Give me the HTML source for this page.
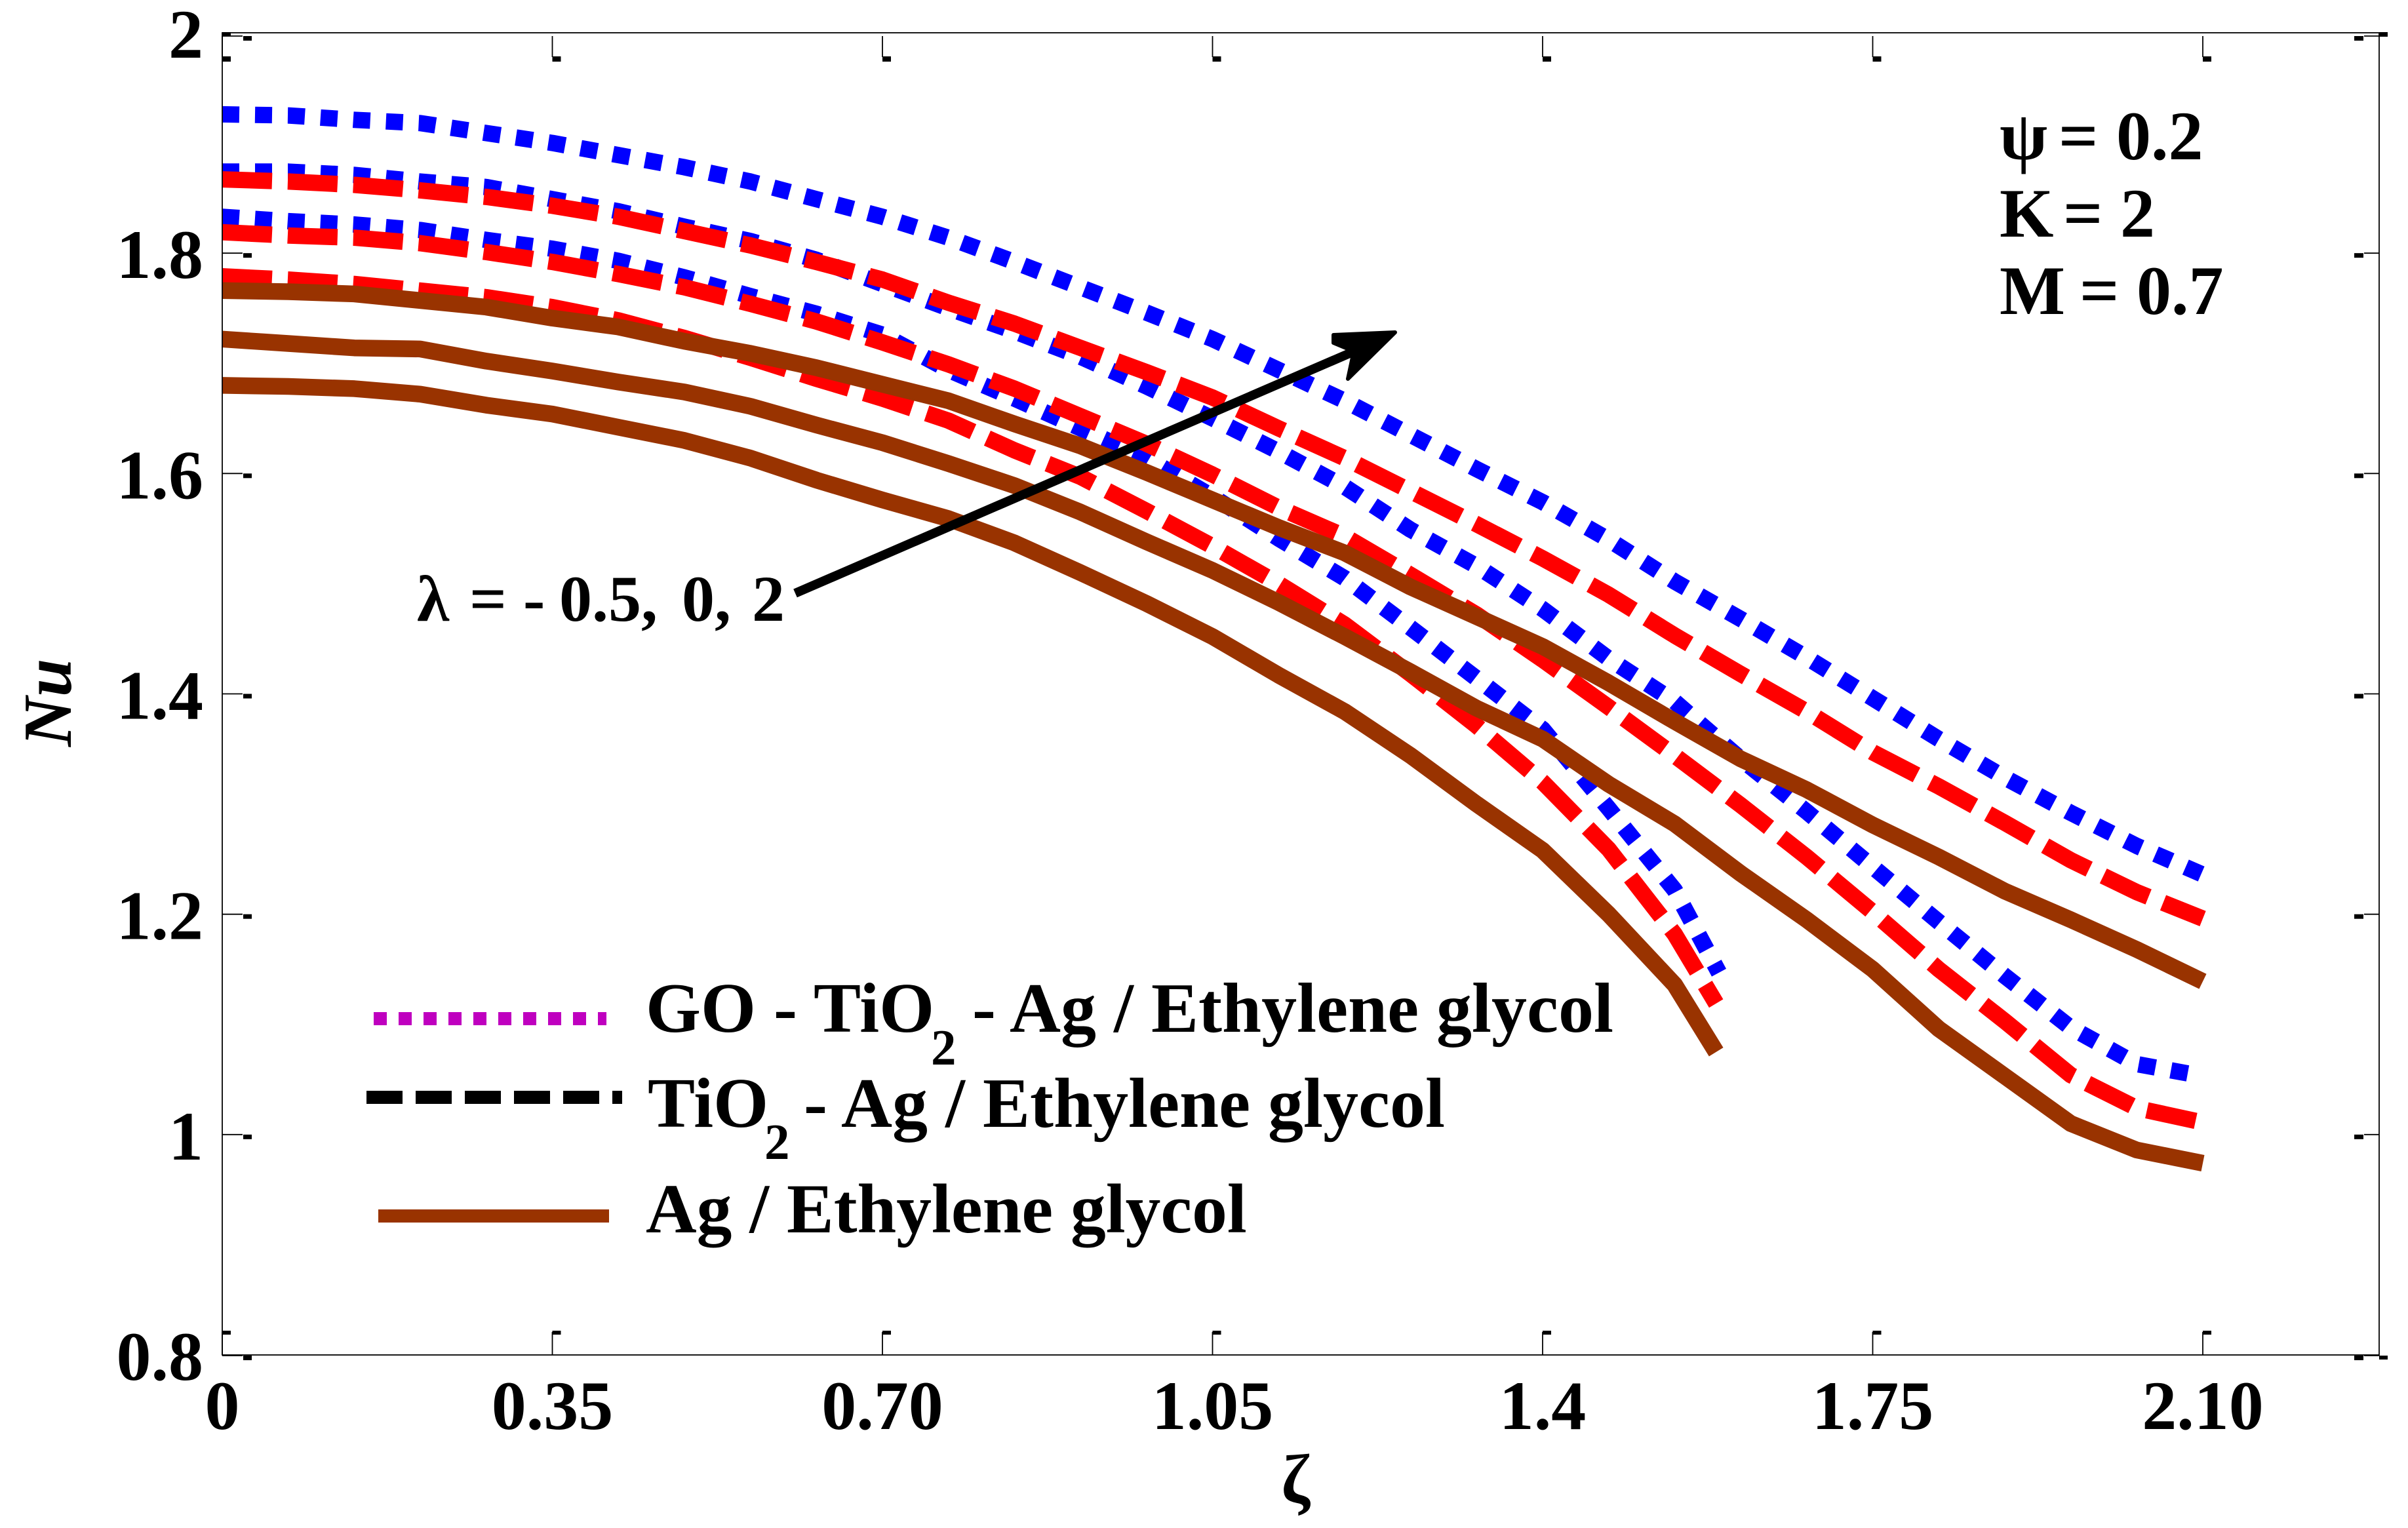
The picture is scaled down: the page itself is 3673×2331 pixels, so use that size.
<!DOCTYPE html>
<html lang="en">
<head>
<meta charset="utf-8">
<title>Nu versus zeta chart</title>
<style>
html,body{margin:0;padding:0;background:#fff;}
svg{display:block;}
text{font-family:"Liberation Serif","DejaVu Serif",serif;font-weight:bold;fill:#000;}
</style>
</head>
<body>
<svg id="chart" xmlns="http://www.w3.org/2000/svg" width="3673" height="2331" viewBox="0 0 3673 2331">
  <rect x="0" y="0" width="3673" height="2331" fill="#fff"/>
  <g id="curves"></g>
  <rect x="339" y="50" width="3290" height="2017" fill="none" stroke="#000" stroke-width="1.8"/>
  <g id="ticks"></g>
  <g id="tick-labels" font-size="106"></g>

  <text x="1976" y="2292" font-size="106" text-anchor="middle">ζ</text>
  <text transform="translate(108,1139) rotate(-90)" font-size="105" font-style="italic">Nu</text>

  <g>
    <line x1="1213" y1="905" x2="2070" y2="534" stroke="#000" stroke-width="14"/>
    <polygon points="2128,507 2034,511 2034,523 2065,536 2056,578" fill="#000" stroke="#000" stroke-width="6" stroke-linejoin="round"/>
  </g>
  <text y="947" font-size="100"><tspan x="636">λ</tspan><tspan x="716">=</tspan><tspan x="798">-</tspan><tspan x="853">0.5,</tspan><tspan x="1040">0,</tspan><tspan x="1147">2</tspan></text>

  <g font-size="106">
    <text y="243"><tspan x="3050">ψ</tspan><tspan x="3140">=</tspan><tspan x="3228">0.2</tspan></text>
    <text y="361"><tspan x="3050">K</tspan><tspan x="3147">=</tspan><tspan x="3234">2</tspan></text>
    <text y="479"><tspan x="3050">M</tspan><tspan x="3172">=</tspan><tspan x="3259">0.7</tspan></text>
  </g>

  <g>
    <line x1="570" y1="1554" x2="925" y2="1554" stroke="#BF00BF" stroke-width="20" stroke-dasharray="20 18"/>
    <text y="1574" font-size="108"><tspan x="985">GO - TiO</tspan><tspan x="1420" y="1624" font-size="77">2</tspan><tspan x="1483" y="1574">- Ag / Ethylene glycol</tspan></text>
    <line x1="559" y1="1674" x2="949" y2="1674" stroke="#000" stroke-width="20" stroke-dasharray="55 20"/>
    <text y="1719" font-size="108"><tspan x="988">TiO</tspan><tspan x="1166" y="1768" font-size="77">2</tspan><tspan x="1226" y="1719">- Ag / Ethylene glycol</tspan></text>
    <line x1="577" y1="1855" x2="929" y2="1855" stroke="#993300" stroke-width="20"/>
    <text x="985" y="1880" font-size="107.5">Ag / Ethylene glycol</text>
  </g>
</svg>
<script>
var zetaFull = [0,0.07,0.14,0.21,0.28,0.35,0.42,0.49,0.56,0.63,0.70,0.77,0.84,0.91,0.98,1.05,1.12,1.19,1.26,1.33,1.40,1.47,1.54,1.61,1.68,1.75,1.82,1.89,1.96,2.03,2.10];
var zetaShortBlue = [0,0.07,0.14,0.21,0.28,0.35,0.42,0.49,0.56,0.63,0.70,0.77,0.84,0.91,0.98,1.05,1.12,1.19,1.26,1.33,1.40,1.47,1.54,1.587];
var zetaShort = [0,0.07,0.14,0.21,0.28,0.35,0.42,0.49,0.56,0.63,0.70,0.77,0.84,0.91,0.98,1.05,1.12,1.19,1.26,1.33,1.40,1.47,1.54,1.584];

var goLambda2 = [1.926,1.925,1.921,1.918,1.909,1.900,1.889,1.878,1.865,1.849,1.833,1.814,1.792,1.769,1.746,1.722,1.694,1.666,1.635,1.604,1.574,1.540,1.502,1.468,1.433,1.396,1.359,1.324,1.292,1.262,1.236];
var goLambda0 = [1.874,1.874,1.871,1.865,1.860,1.849,1.838,1.824,1.811,1.794,1.772,1.750,1.729,1.706,1.679,1.650,1.620,1.588,1.549,1.516,1.477,1.432,1.393,1.341,1.293,1.243,1.193,1.144,1.097,1.064,1.053];
var goLambdaNeg = [1.833,1.829,1.826,1.821,1.812,1.804,1.793,1.778,1.761,1.745,1.726,1.694,1.668,1.641,1.614,1.579,1.541,1.505,1.460,1.414,1.368,1.296,1.222,1.147];

var tioLambda2 = [1.867,1.865,1.862,1.857,1.851,1.843,1.833,1.820,1.807,1.792,1.776,1.755,1.736,1.714,1.692,1.669,1.641,1.614,1.584,1.554,1.523,1.490,1.453,1.418,1.384,1.347,1.316,1.283,1.249,1.220,1.196];
var tioLambda0 = [1.819,1.816,1.814,1.809,1.801,1.792,1.781,1.769,1.754,1.738,1.719,1.699,1.677,1.652,1.627,1.599,1.569,1.543,1.508,1.472,1.431,1.388,1.344,1.299,1.252,1.202,1.150,1.103,1.054,1.024,1.011];
var tioLambdaNeg = [1.779,1.776,1.772,1.766,1.760,1.751,1.739,1.723,1.705,1.686,1.668,1.648,1.621,1.597,1.566,1.534,1.500,1.463,1.418,1.371,1.320,1.259,1.182,1.119];

var agLambda2 = [1.766,1.765,1.763,1.757,1.751,1.741,1.733,1.720,1.709,1.696,1.681,1.666,1.645,1.625,1.601,1.576,1.551,1.528,1.497,1.470,1.443,1.410,1.375,1.341,1.313,1.281,1.252,1.221,1.195,1.168,1.139];
var agLambda0 = [1.722,1.718,1.714,1.713,1.702,1.693,1.683,1.674,1.661,1.644,1.628,1.609,1.589,1.565,1.538,1.512,1.483,1.452,1.420,1.387,1.359,1.318,1.282,1.237,1.195,1.150,1.096,1.053,1.010,0.986,0.974];
var agLambdaNeg = [1.680,1.679,1.677,1.672,1.662,1.654,1.642,1.630,1.614,1.594,1.576,1.559,1.537,1.510,1.482,1.452,1.417,1.384,1.344,1.300,1.258,1.200,1.136,1.075];

var xTickValues = [0,0.35,0.70,1.05,1.40,1.75,2.10];
var xTickLabels = ["0","0.35","0.70","1.05","1.4","1.75","2.10"];
var yTickValues = [2,1.8,1.6,1.4,1.2,1,0.8];
var yTickLabels = ["2","1.8","1.6","1.4","1.2","1","0.8"];

var SVG_NS = "http://www.w3.org/2000/svg";
function xScale(z){ return 339 + z * (3360 - 339) / 2.1; }
function yScale(v){ return 50 + (2 - v) * (2067 - 50) / 1.2; }

function make(tag, attrs, parent){
  var el = document.createElementNS(SVG_NS, tag);
  for (var k in attrs) el.setAttribute(k, attrs[k]);
  parent.appendChild(el);
  return el;
}

var curves = document.getElementById("curves");
function drawCurve(name, zs, vs, color, width, dash){
  var pts = [];
  for (var i = 0; i < vs.length; i++) pts.push(xScale(zs[i]).toFixed(1) + "," + yScale(vs[i]).toFixed(1));
  var attrs = {points: pts.join(" "), fill: "none", stroke: color, "stroke-width": width, "stroke-linejoin": "round"};
  if (dash) attrs["stroke-dasharray"] = dash;
  var el = make("polyline", attrs, curves);
  
  
}
var BLUE = "#0000FF", RED = "#FF0000", BROWN = "#993300";
var DOT = "26 24", DASH = "76 24";
drawCurve("curve-go-tio2-ag-lambda-2", zetaFull, goLambda2, BLUE, 25, DOT);
drawCurve("curve-go-tio2-ag-lambda-0", zetaFull, goLambda0, BLUE, 25, DOT);
drawCurve("curve-go-tio2-ag-lambda-neg-0-5", zetaShortBlue, goLambdaNeg, BLUE, 25, DOT);
drawCurve("curve-tio2-ag-lambda-2", zetaFull, tioLambda2, RED, 25, DASH);
drawCurve("curve-tio2-ag-lambda-0", zetaFull, tioLambda0, RED, 25, DASH);
drawCurve("curve-tio2-ag-lambda-neg-0-5", zetaShort, tioLambdaNeg, RED, 25, DASH);
drawCurve("curve-ag-lambda-2", zetaFull, agLambda2, BROWN, 25.5, null);
drawCurve("curve-ag-lambda-0", zetaFull, agLambda0, BROWN, 25.5, null);
drawCurve("curve-ag-lambda-neg-0-5", zetaShort, agLambdaNeg, BROWN, 25.5, null);

var ticks = document.getElementById("ticks");
function tickMark(name, x1, y1, x2, y2, bx, by, bw, bh){
  var line = make("line", {x1: x1, y1: y1, x2: x2, y2: y2, stroke: "#000", "stroke-width": 1.8}, ticks);
  
  
  var blob = make("rect", {x: bx, y: by, width: bw, height: bh, fill: "#000"}, ticks);
  
  
}
xTickValues.forEach(function(v){
  var x = xScale(v);
  tickMark("x-tick-top", x, 55, x, 87, x, 86, 13, 8);
  tickMark("x-tick-bottom", x, 2067, x, 2032, x, 2030, 13, 6);
});
yTickValues.forEach(function(v){
  var y = yScale(v);
  var ly = v === 2 ? y + 5 : (v === 0.8 ? y + 1 : y);
  tickMark("y-tick-left", 339, ly, 370, ly, 371, ly, 13, 7);
  tickMark("y-tick-right", 3629, ly, 3606, ly, 3591, ly, 14, 7);
});
var cornerTopLeft = make("rect", {x: 339, y: 49, width: 13, height: 6, fill: "#000"}, ticks);


var cornerTopRight = make("rect", {x: 3629, y: 49, width: 13, height: 7, fill: "#000"}, ticks);


var cornerBottomRight = make("rect", {x: 3629, y: 2068, width: 13, height: 6, fill: "#000"}, ticks);



var labels = document.getElementById("tick-labels");
xTickValues.forEach(function(v, i){
  var t = make("text", {x: xScale(v), y: 2180, "text-anchor": "middle"}, labels);
  t.textContent = xTickLabels[i];
  
  
});
yTickValues.forEach(function(v, i){
  var t = make("text", {x: 310, y: yScale(v) + 38, "text-anchor": "end"}, labels);
  t.textContent = yTickLabels[i];
  
  
});
</script>
</body>
</html>
